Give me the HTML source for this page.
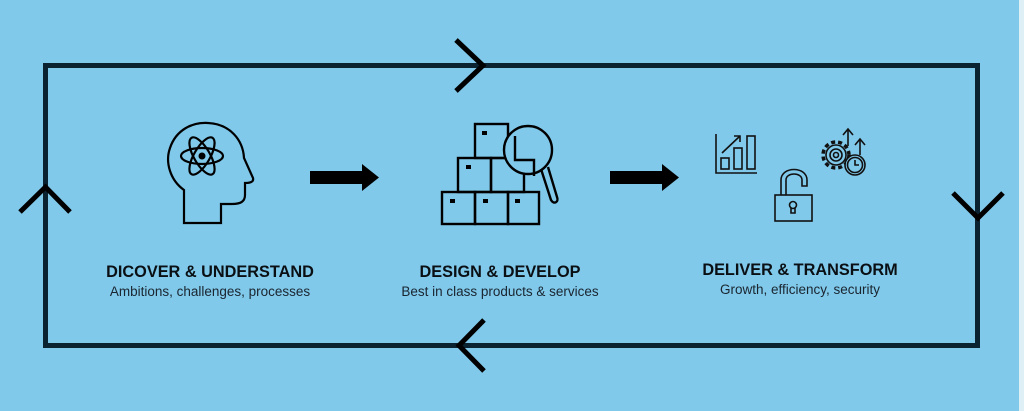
<!DOCTYPE html>
<html><head><meta charset="utf-8"><style>
html,body{margin:0;padding:0;background:#80c9ea;width:1024px;height:411px;overflow:hidden}
svg{display:block}
text{font-family:"Liberation Sans",sans-serif;fill:#0a0f14;text-anchor:middle}
.h{font-weight:bold;font-size:16.3px}
.s{font-size:13.5px;fill:#1a2530}
</style></head><body>
<svg width="1024" height="411" viewBox="0 0 1024 411">
<rect x="0" y="0" width="1024" height="411" fill="#80c9ea"/>
<rect x="1019" y="0" width="5" height="411" fill="#dfeff6"/>
<rect x="45.5" y="65.5" width="932" height="280" fill="none" stroke="#0b2230" stroke-width="5"/>
<g fill="none" stroke="#000" stroke-width="5">
<polyline points="456,40 483,65.5 456,91"/>
<polyline points="953,193 978,218 1003,193"/>
<polyline points="484,320 459,345.5 484,371"/>
<polyline points="20,212 45.5,187 70,212"/>
</g>
<polygon points="310,171 362,171 362,164 379,177.5 362,191 362,184 310,184" fill="#000"/>
<polygon points="610,171 662,171 662,164 679,177.5 662,191 662,184 610,184" fill="#000"/>
<g fill="none" stroke="#000" stroke-width="2.2">
<path d="M184,223 L184,190 C170,180 165,162 170,148 C176,130 192,122 208,123 C230,124 243,140 244,158 L253,178 C254,182 250,183 245,183 L245,195 C245,202 240,204 232,204 L221,204 L221,223 Z"/>
<ellipse cx="202" cy="156" rx="21" ry="8"/>
<ellipse cx="202" cy="156" rx="21" ry="8" transform="rotate(60 202 156)"/>
<ellipse cx="202" cy="156" rx="21" ry="8" transform="rotate(-60 202 156)"/>
</g>
<circle cx="202" cy="156" r="3.5" fill="#000"/>
<g fill="none" stroke="#000" stroke-width="2.4">
<rect x="442" y="192" width="33" height="32"/>
<rect x="475" y="192" width="33" height="32"/>
<rect x="508" y="192" width="31" height="32"/>
<rect x="458" y="158" width="33" height="34"/>
<rect x="491" y="158" width="33" height="34"/>
<rect x="475" y="124" width="33" height="34"/>
<circle cx="528" cy="150" r="24" fill="#80c9ea"/>
<path d="M515,136 L515,160 L534,160 L534,176"/>
<path d="M541,169 L551,200 C554,205 559,202 557,197 L548,167"/>
</g>
<g fill="#000">
<rect x="450" y="199" width="5" height="4"/><rect x="483" y="199" width="5" height="4"/><rect x="515" y="199" width="5" height="4"/>
<rect x="466" y="165" width="5" height="4"/><rect x="482" y="131" width="5" height="4"/>
</g>
<g fill="none" stroke="#111" stroke-width="1.6">
<path d="M716,134 L716,173 L757,173"/>
<rect x="721" y="158" width="8" height="11"/>
<rect x="734" y="148" width="8" height="21"/>
<rect x="747" y="136" width="8" height="33"/>
<path d="M722,153 L740,136 M734,136 L740,136 L740,142"/>
<rect x="775" y="195" width="37" height="26"/>
<path d="M781,195 L781,180 C781,166 807,166 807,180 L807,186 L802,186 L802,180 C802,172 786,172 786,180 L786,195"/>
<circle cx="793" cy="205" r="3.5"/><path d="M791,208 L791,213 L795,213 L795,208"/>
<circle cx="836" cy="155" r="13" stroke-dasharray="4 3" stroke-width="3.5"/>
<circle cx="836" cy="155" r="10"/>
<circle cx="836" cy="155" r="6"/><circle cx="836" cy="155" r="2.5"/>
<circle cx="855" cy="165" r="10" fill="#80c9ea"/><circle cx="855" cy="165" r="7.5"/>
<path d="M855,160 L855,165 L859,165"/>
<path d="M848,146 L848,130 M843,135 L848,129 L853,135 M860,155 L860,140 M855,145 L860,139 L865,145"/>
</g>
<text class="h" x="210" y="277">DICOVER &amp; UNDERSTAND</text>
<text class="s" x="210" y="296">Ambitions, challenges, processes</text>
<text class="h" x="500" y="277">DESIGN &amp; DEVELOP</text>
<text class="s" x="500" y="296">Best in class products &amp; services</text>
<text class="h" x="800" y="275">DELIVER &amp; TRANSFORM</text>
<text class="s" x="800" y="294">Growth, efficiency, security</text>
</svg>
</body></html>
